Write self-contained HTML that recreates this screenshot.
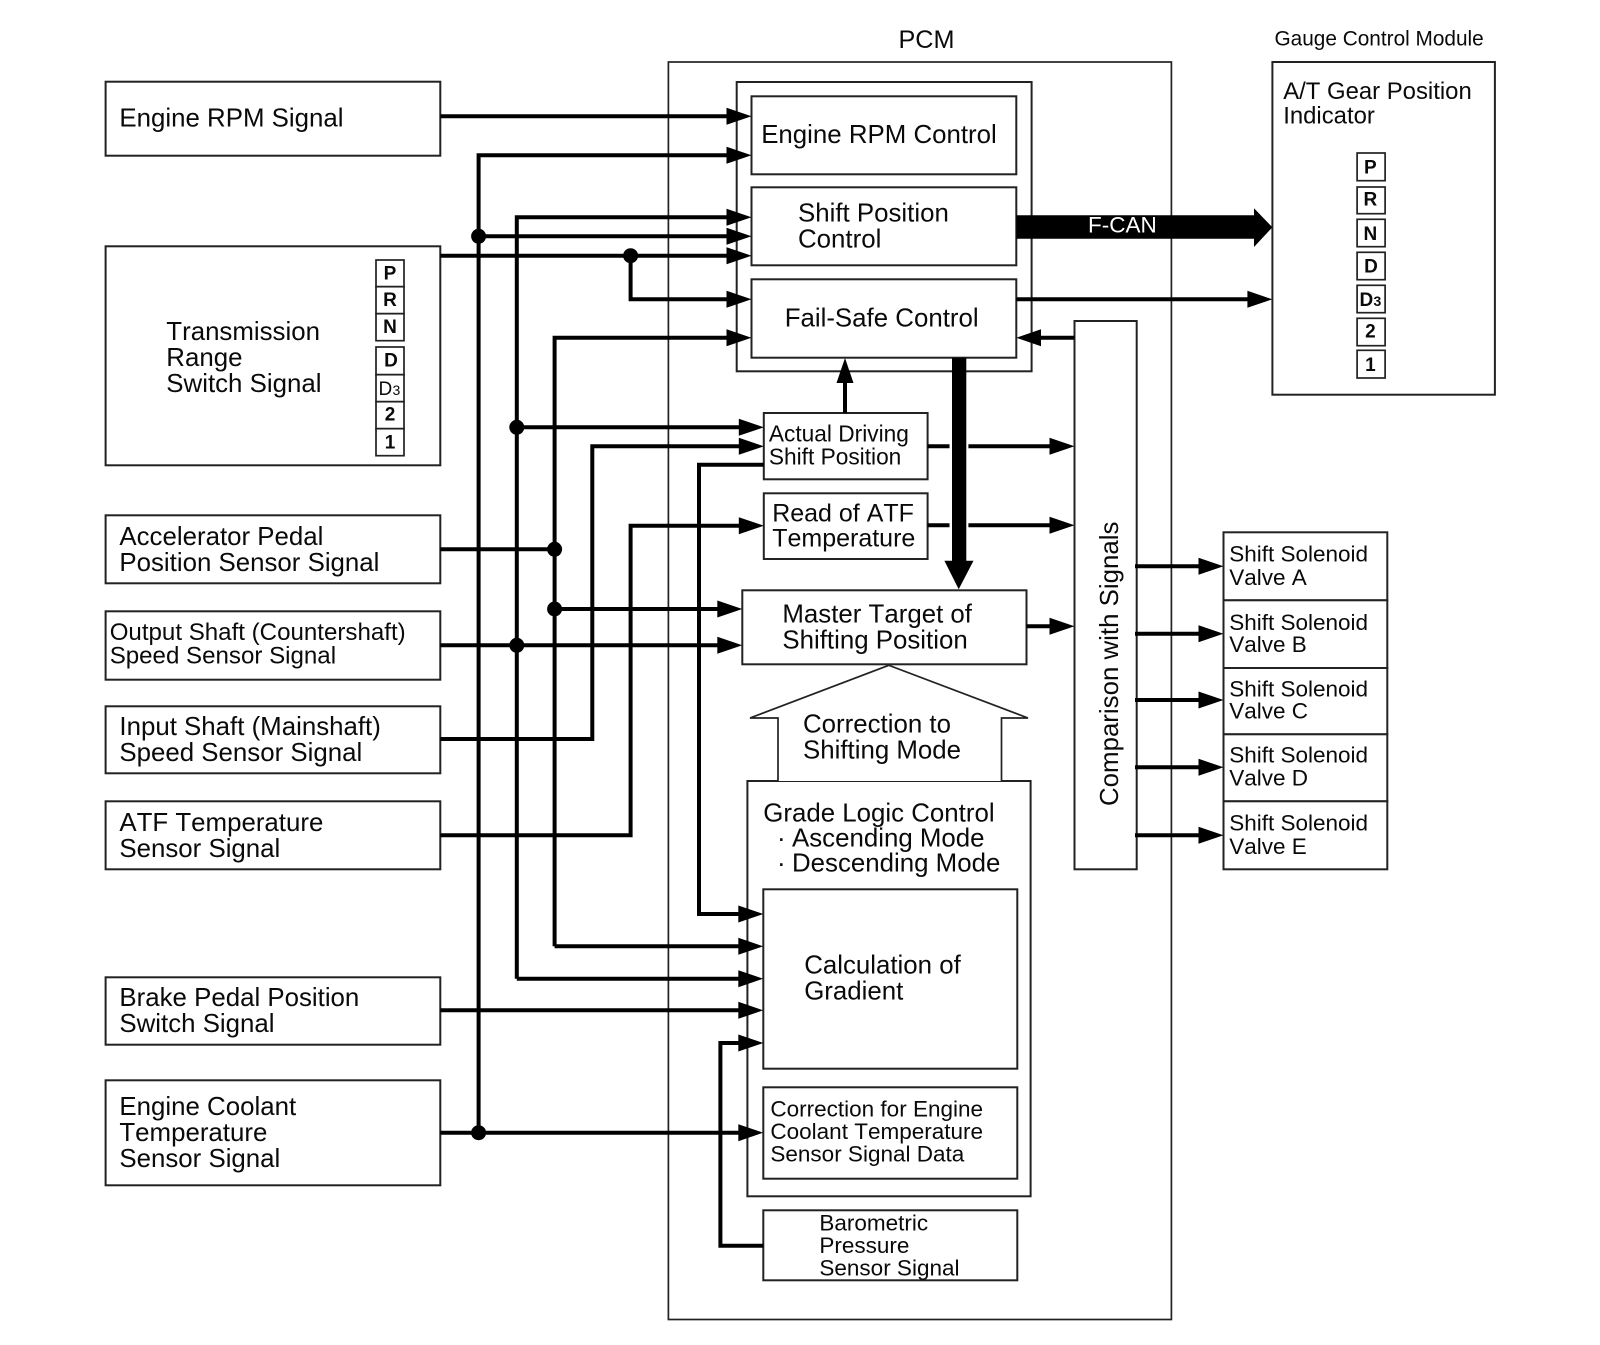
<!DOCTYPE html>
<html lang="en">
<head>
<meta charset="utf-8">
<title>PCM Diagram</title>
<style>
html,body{margin:0;padding:0;background:#fff;}
svg{display:block;}
text{font-family:"Liberation Sans",sans-serif;fill:#0a0a0a;white-space:pre;font-kerning:none;}
.b{fill:#fff;stroke:#222;stroke-width:2;}
.t{fill:#fff;stroke:#222;stroke-width:1.7;}
.w{fill:none;stroke:#000;stroke-width:4;stroke-linejoin:miter;}
.l{font-size:25.85px;}
.m{font-size:24.1px;}
.a{font-size:22.7px;}
.s{font-size:22.5px;}
.k{font-size:19px;font-weight:bold;text-anchor:middle;}
</style>
</head>
<body>
<svg width="1600" height="1345" viewBox="0 0 1600 1345" xmlns="http://www.w3.org/2000/svg">
<defs>
<polygon id="ar" points="0,0 -25,-8.5 -25,8.5" fill="#000"/>
<circle id="dot" r="7.5" fill="#000"/>
</defs>
<rect width="1600" height="1345" fill="#fff"/>

<!-- containers -->
<rect class="t" x="668.4" y="62" width="503" height="1257.5"/>
<rect class="b" x="736.7" y="82" width="294.9" height="289.3"/>
<rect class="b" x="747.4" y="781" width="283.2" height="415.3"/>
<rect class="b" x="1272.4" y="62" width="222.5" height="332.7"/>

<!-- left boxes -->
<rect class="b" x="105.6" y="81.7" width="334.7" height="74"/>
<rect class="b" x="105.6" y="246.3" width="334.7" height="219"/>
<rect class="b" x="105.6" y="515.3" width="334.7" height="68"/>
<rect class="b" x="105.6" y="611.3" width="334.7" height="68.4"/>
<rect class="b" x="105.6" y="706.3" width="334.7" height="67"/>
<rect class="b" x="105.6" y="801.3" width="334.7" height="68"/>
<rect class="b" x="105.6" y="977.3" width="334.7" height="67.4"/>
<rect class="b" x="105.6" y="1080.3" width="334.7" height="105"/>

<!-- TR indicators -->
<rect class="t" x="376" y="260" width="28" height="26.7"/>
<rect class="t" x="376" y="286.7" width="28" height="27"/>
<rect class="t" x="376" y="313.7" width="28" height="27"/>
<rect class="t" x="376" y="347" width="28" height="27.7"/>
<rect class="t" x="376" y="374.7" width="28" height="27"/>
<rect class="t" x="376" y="401.7" width="28" height="27"/>
<rect class="t" x="376" y="428.7" width="28" height="27"/>

<!-- gauge indicators -->
<rect class="t" x="1357.1" y="153" width="28" height="27.7"/>
<rect class="t" x="1357.1" y="187" width="28" height="26.7"/>
<rect class="t" x="1357.1" y="219.3" width="28" height="27.4"/>
<rect class="t" x="1357.1" y="252.3" width="28" height="27.4"/>
<rect class="t" x="1357.1" y="285.3" width="28" height="27.4"/>
<rect class="t" x="1357.1" y="318.3" width="28" height="27.4"/>
<rect class="t" x="1357.1" y="350.3" width="28" height="27.7"/>

<!-- inner boxes -->
<rect class="b" x="751.5" y="96.3" width="264.8" height="78"/>
<rect class="b" x="751.5" y="187.3" width="264.8" height="78"/>
<rect class="b" x="751.5" y="279.3" width="264.8" height="78.4"/>
<rect class="b" x="763.8" y="413" width="163.8" height="66.3"/>
<rect class="b" x="763.8" y="493.3" width="163.8" height="65.7"/>
<rect class="b" x="742.3" y="590.3" width="284.2" height="74"/>
<rect class="b" x="1074.5" y="321" width="62.2" height="548.3"/>
<rect class="b" x="1223.5" y="532.3" width="163.8" height="68"/>
<rect class="b" x="1223.5" y="600.3" width="163.8" height="67.7"/>
<rect class="b" x="1223.5" y="668" width="163.8" height="66.3"/>
<rect class="b" x="1223.5" y="734.3" width="163.8" height="67"/>
<rect class="b" x="1223.5" y="801.3" width="163.8" height="68"/>
<rect class="b" x="763.3" y="889.3" width="254" height="179.4"/>
<rect class="b" x="763.3" y="1087.3" width="254" height="91.4"/>
<rect class="b" x="763.3" y="1210.3" width="254" height="70"/>

<!-- house arrow -->
<path d="M778,781 L778,718 L750,718 L888.8,665.3 L1028,718 L1001.5,718 L1001.5,781" fill="#fff" stroke="#222" stroke-width="1.7"/>

<!-- wires -->
<path class="w" d="M440.3,116.3H735"/>
<path class="w" d="M478.6,1132.7V155.3H735"/>
<path class="w" d="M516.8,978.7V217.3H735"/>
<path class="w" d="M478.6,236.3H735"/>
<path class="w" d="M440.3,255.7H735"/>
<path class="w" d="M630.6,255.7V299.3H735"/>
<path class="w" d="M554.6,946.3V337.7H735"/>
<path class="w" d="M516.8,427.3H748"/>
<path class="w" d="M440.3,739H592.3V446.3H748"/>
<path class="w" d="M763.8,464.7H699V914H748"/>
<path class="w" d="M440.3,835.3H630.6V525.7H748"/>
<path class="w" d="M440.3,549.3H554.6"/>
<path class="w" d="M554.6,609H726"/>
<path class="w" d="M440.3,645.3H726"/>
<path class="w" d="M554.6,946.3H748"/>
<path class="w" d="M516.8,978.7H748"/>
<path class="w" d="M440.3,1010.3H748"/>
<path class="w" d="M440.3,1132.7H748"/>
<path class="w" d="M763.3,1245.7H720.4V1043H748"/>
<path class="w" d="M845,413V375"/>
<path class="w" d="M1016.3,299.3H1256"/>
<path class="w" d="M1074.5,337.7H1032"/>
<path class="w" d="M927.6,446.3H949.5M968.4,446.3H1060"/>
<path class="w" d="M927.6,525.3H949.5M968.4,525.3H1060"/>
<path class="w" d="M1026.5,626.3H1060"/>
<path class="w" d="M1135,566.3H1208"/>
<path class="w" d="M1135,633.7H1208"/>
<path class="w" d="M1135,700H1208"/>
<path class="w" d="M1135,767.3H1208"/>
<path class="w" d="M1135,835.3H1208"/>

<!-- arrowheads -->
<use href="#ar" x="751.5" y="116.3"/>
<use href="#ar" x="751.5" y="155.3"/>
<use href="#ar" x="751.5" y="217.3"/>
<use href="#ar" x="751.5" y="236.3"/>
<use href="#ar" x="751.5" y="255.7"/>
<use href="#ar" x="751.5" y="299.3"/>
<use href="#ar" x="751.5" y="337.7"/>
<use href="#ar" x="763.8" y="427.3"/>
<use href="#ar" x="763.8" y="446.3"/>
<use href="#ar" x="763.8" y="525.7"/>
<use href="#ar" x="742.3" y="609"/>
<use href="#ar" x="742.3" y="645.3"/>
<use href="#ar" x="763.3" y="914"/>
<use href="#ar" x="763.3" y="946.3"/>
<use href="#ar" x="763.3" y="978.7"/>
<use href="#ar" x="763.3" y="1010.3"/>
<use href="#ar" x="763.3" y="1043"/>
<use href="#ar" x="763.3" y="1132.7"/>
<use href="#ar" x="1272.4" y="299.3"/>
<use href="#ar" x="1074.5" y="446.3"/>
<use href="#ar" x="1074.5" y="525.3"/>
<use href="#ar" x="1074.5" y="626.3"/>
<use href="#ar" x="1223.5" y="566.3"/>
<use href="#ar" x="1223.5" y="633.7"/>
<use href="#ar" x="1223.5" y="700"/>
<use href="#ar" x="1223.5" y="767.3"/>
<use href="#ar" x="1223.5" y="835.3"/>
<polygon points="1016.3,337.7 1041,329.2 1041,346.2" fill="#000"/>
<polygon points="845,358 836.5,383 853.5,383" fill="#000"/>

<!-- thick arrows -->
<polygon points="1016.3,215.3 1254,215.3 1254,208.3 1272.4,227.3 1254,247 1254,238.7 1016.3,238.7" fill="#000"/>
<polygon points="952,357.7 966.3,357.7 966.3,560.7 973.5,560.7 958.7,589.3 944.4,560.7 952,560.7" fill="#000"/>

<!-- dots -->
<use href="#dot" x="478.6" y="236.3"/>
<use href="#dot" x="630.6" y="255.7"/>
<use href="#dot" x="516.8" y="427.3"/>
<use href="#dot" x="554.6" y="549.3"/>
<use href="#dot" x="554.6" y="609"/>
<use href="#dot" x="516.8" y="645.3"/>
<use href="#dot" x="478.6" y="1132.7"/>

<!-- labels: left -->
<text class="l" x="119.4" y="126.7">Engine RPM Signal</text>
<text class="l" x="166.3" y="340">Transmission</text>
<text class="l" x="166.3" y="366">Range</text>
<text class="l" x="166.3" y="392">Switch Signal</text>
<text class="l" x="119.4" y="545">Accelerator Pedal</text>
<text class="l" x="119.4" y="571">Position Sensor Signal</text>
<text class="m" x="109.7" y="640">Output Shaft (Countershaft)</text>
<text class="m" x="109.7" y="663.7">Speed Sensor Signal</text>
<text class="l" x="119.4" y="735">Input Shaft (Mainshaft)</text>
<text class="l" x="119.4" y="761">Speed Sensor Signal</text>
<text class="l" x="119.4" y="831">ATF Temperature</text>
<text class="l" x="119.4" y="857">Sensor Signal</text>
<text class="l" x="119.4" y="1006">Brake Pedal Position</text>
<text class="l" x="119.4" y="1032">Switch Signal</text>
<text class="l" x="119.4" y="1115">Engine Coolant</text>
<text class="l" x="119.4" y="1141">Temperature</text>
<text class="l" x="119.4" y="1167">Sensor Signal</text>

<!-- TR indicator labels -->
<text class="k" x="390" y="279.3">P</text>
<text class="k" x="390" y="306">R</text>
<text class="k" x="390" y="333">N</text>
<text class="k" x="391" y="366.7">D</text>
<text x="378.5" y="395" font-size="19">D</text><text x="392.5" y="395" font-size="14">3</text>
<text class="k" x="390" y="420.7">2</text>
<text class="k" x="390" y="448.3">1</text>

<!-- header labels -->
<text x="898.5" y="48" font-size="25.2">PCM</text>
<text x="1274.5" y="45.7" font-size="20.8">Gauge Control Module</text>
<text x="1283.2" y="99" font-size="23.9">A/T Gear Position</text>
<text x="1283.2" y="123.3" font-size="23.9">Indicator</text>

<!-- gauge indicator labels -->
<text class="k" x="1370.4" y="173.3">P</text>
<text class="k" x="1370.4" y="205.7">R</text>
<text class="k" x="1370.4" y="240">N</text>
<text class="k" x="1371" y="272.7">D</text>
<text x="1359.5" y="306" font-size="19" font-weight="bold">D</text><text x="1373.5" y="306" font-size="14" font-weight="bold">3</text>
<text class="k" x="1370.4" y="337.3">2</text>
<text class="k" x="1370.4" y="371">1</text>

<!-- PCM labels -->
<text class="l" x="761.2" y="143">Engine RPM Control</text>
<text class="l" x="798" y="221.7">Shift Position</text>
<text class="l" x="798" y="247.7">Control</text>
<text class="l" x="784.7" y="326.7">Fail-Safe Control</text>
<text class="a" x="768.9" y="441.7">Actual Driving</text>
<text class="a" x="768.9" y="464.3">Shift Position</text>
<text x="772.2" y="521.7" font-size="25">Read of ATF</text>
<text x="772.2" y="546.7" font-size="25">Temperature</text>
<text class="l" x="782.4" y="622.3">Master Target of</text>
<text class="l" x="782.4" y="648.3">Shifting Position</text>
<text class="l" x="803" y="732.7">Correction to</text>
<text class="l" x="803" y="758.3">Shifting Mode</text>
<text class="l" x="763.3" y="821.7">Grade Logic Control</text>
<text class="l" x="777" y="846.7">·</text>
<text class="l" x="792" y="846.7">Ascending Mode</text>
<text class="l" x="777" y="871.7">·</text>
<text class="l" x="792" y="871.7">Descending Mode</text>
<text class="l" x="804.2" y="973.3">Calculation of</text>
<text class="l" x="804.2" y="999.3">Gradient</text>
<text class="s" x="770.4" y="1116.7">Correction for Engine</text>
<text class="s" x="770.4" y="1139">Coolant Temperature</text>
<text class="s" x="770.4" y="1161.7">Sensor Signal Data</text>
<text class="s" x="819.4" y="1230.7">Barometric</text>
<text class="s" x="819.4" y="1253">Pressure</text>
<text class="s" x="819.4" y="1275.7">Sensor Signal</text>
<text x="1088" y="232.7" font-size="22.5" style="fill:#fff">F-CAN</text>
<text class="l" transform="translate(1117.9,806) rotate(-90)">Comparison with Signals</text>

<!-- solenoids -->
<text class="s" x="1229.2" y="561.7">Shift Solenoid</text>
<text class="s" x="1229.2" y="585">Valve A</text>
<text class="s" x="1229.2" y="630">Shift Solenoid</text>
<text class="s" x="1229.2" y="652">Valve B</text>
<text class="s" x="1229.2" y="696.7">Shift Solenoid</text>
<text class="s" x="1229.2" y="718.7">Valve C</text>
<text class="s" x="1229.2" y="762.7">Shift Solenoid</text>
<text class="s" x="1229.2" y="785.7">Valve D</text>
<text class="s" x="1229.2" y="830.7">Shift Solenoid</text>
<text class="s" x="1229.2" y="854">Valve E</text>
</svg>
</body>
</html>
